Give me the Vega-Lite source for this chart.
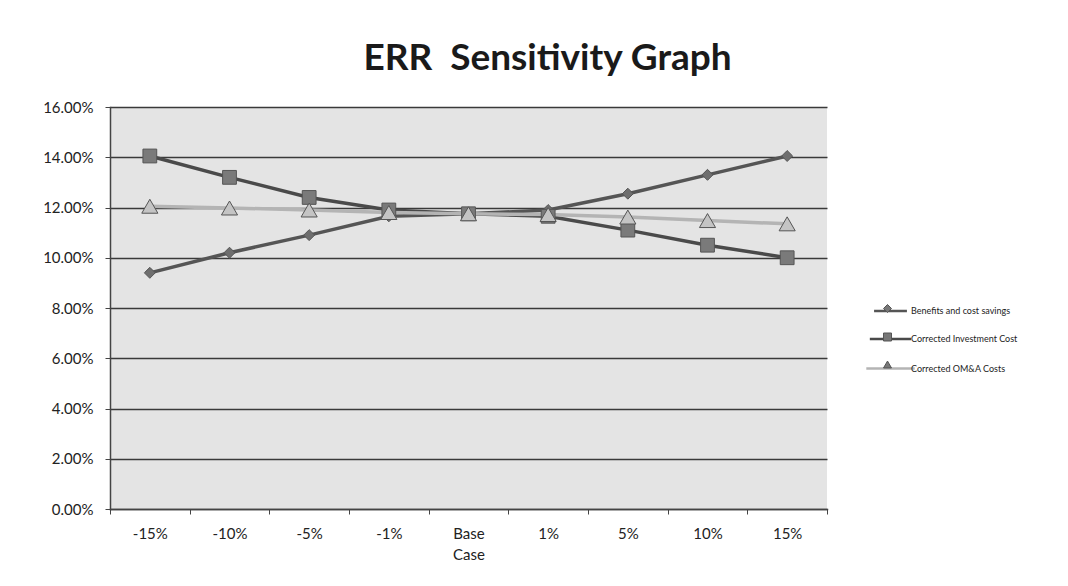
{
  "$schema": "https://vega.github.io/schema/vega-lite/v6.json",
  "autosize": "none",
  "width": 717,
  "height": 402,
  "padding": {"left": 110, "top": 107, "right": 241, "bottom": 77},
  "background": "white",
  "title": {
    "text": "ERR\u00a0 Sensitivity Graph",
    "font": "Lato",
    "fontSize": 37,
    "fontWeight": "bold",
    "color": "#1a1a1a",
    "anchor": "middle",
    "frame": "group",
    "dx": 79,
    "offset": 22
  },
  "data": {
    "values": [
      {"case": "-15%", "series": "Benefits and cost savings", "value": 0.094},
      {"case": "-10%", "series": "Benefits and cost savings", "value": 0.102},
      {"case": "-5%", "series": "Benefits and cost savings", "value": 0.109},
      {"case": "-1%", "series": "Benefits and cost savings", "value": 0.1165},
      {"case": "Base Case", "series": "Benefits and cost savings", "value": 0.1175},
      {"case": "1%", "series": "Benefits and cost savings", "value": 0.119},
      {"case": "5%", "series": "Benefits and cost savings", "value": 0.1255},
      {"case": "10%", "series": "Benefits and cost savings", "value": 0.133},
      {"case": "15%", "series": "Benefits and cost savings", "value": 0.1405},
      {"case": "-15%", "series": "Corrected Investment Cost", "value": 0.1405},
      {"case": "-10%", "series": "Corrected Investment Cost", "value": 0.132},
      {"case": "-5%", "series": "Corrected Investment Cost", "value": 0.124},
      {"case": "-1%", "series": "Corrected Investment Cost", "value": 0.119},
      {"case": "Base Case", "series": "Corrected Investment Cost", "value": 0.1175},
      {"case": "1%", "series": "Corrected Investment Cost", "value": 0.1165},
      {"case": "5%", "series": "Corrected Investment Cost", "value": 0.111},
      {"case": "10%", "series": "Corrected Investment Cost", "value": 0.105},
      {"case": "15%", "series": "Corrected Investment Cost", "value": 0.1},
      {"case": "-15%", "series": "Corrected OM&A Costs", "value": 0.1205},
      {"case": "-10%", "series": "Corrected OM&A Costs", "value": 0.1198},
      {"case": "-5%", "series": "Corrected OM&A Costs", "value": 0.119},
      {"case": "-1%", "series": "Corrected OM&A Costs", "value": 0.118},
      {"case": "Base Case", "series": "Corrected OM&A Costs", "value": 0.1175},
      {"case": "1%", "series": "Corrected OM&A Costs", "value": 0.1172},
      {"case": "5%", "series": "Corrected OM&A Costs", "value": 0.1162},
      {"case": "10%", "series": "Corrected OM&A Costs", "value": 0.1148},
      {"case": "15%", "series": "Corrected OM&A Costs", "value": 0.1135}
    ]
  },
  "encoding": {
    "x": {
      "field": "case",
      "type": "nominal",
      "sort": ["-15%", "-10%", "-5%", "-1%", "Base Case", "1%", "5%", "10%", "15%"],
      "scale": {"paddingInner": 0, "paddingOuter": 0},
      "axis": {
        "title": null,
        "labelAngle": 0,
        "labelFont": "Lato",
        "labelFontSize": 15,
        "labelColor": "#222",
        "labelPadding": 12,
        "labelBaseline": "top",
        "labelLineHeight": 21,
        "labelExpr": "datum.value == 'Base Case' ? ['Base', 'Case'] : datum.value",
        "tickBand": "extent",
        "tickSize": 5,
        "tickColor": "#444",
        "domainColor": "#444",
        "domainWidth": 1.5,
        "grid": false
      }
    },
    "y": {
      "field": "value",
      "type": "quantitative",
      "scale": {"domain": [0, 0.16], "nice": false},
      "axis": {
        "title": null,
        "values": [0, 0.02, 0.04, 0.06, 0.08, 0.1, 0.12, 0.14, 0.16],
        "format": ".2%",
        "labelFont": "Lato",
        "labelFontSize": 15,
        "labelColor": "#222",
        "labelPadding": 12,
        "tickSize": 5,
        "tickColor": "#444",
        "domainColor": "#444",
        "domainWidth": 1.5,
        "grid": true,
        "gridColor": "#3a3a3a",
        "gridWidth": 1.5
      }
    }
  },
  "layer": [
    {
      "mark": {"type": "line", "strokeWidth": 3.5},
      "encoding": {
        "color": {
          "field": "series",
          "type": "nominal",
          "scale": {
            "domain": ["Benefits and cost savings", "Corrected Investment Cost", "Corrected OM&A Costs"],
            "range": ["#555555", "#4a4a4a", "#b4b4b4"]
          },
          "legend": {
            "title": null,
            "orient": "none",
            "legendX": 771,
            "legendY": 197,
            "padding": 0,
            "labelFont": "Lato",
            "labelFontSize": 9,
            "labelColor": "#222",
            "labelOffset": 11,
            "rowPadding": 14.5,
            "symbolType": "M-3,0H3",
            "symbolSize": 64,
            "symbolStrokeWidth": 2.5
          }
        }
      }
    },
    {
      "mark": {"type": "point", "filled": true, "opacity": 1, "strokeWidth": 1, "stroke": "#555"},
      "encoding": {
        "shape": {
          "field": "series",
          "type": "nominal",
          "scale": {"range": ["diamond", "square", "triangle-up"]},
          "legend": {
            "title": null,
            "orient": "none",
            "legendX": 773,
            "legendY": 197,
            "padding": 0,
            "labelFont": "Lato",
            "labelFontSize": 9,
            "labelExpr": "''",
            "labelOffset": 21,
            "rowPadding": 15.5,
            "symbolSize": 64,
            "symbolFillColor": "#777",
            "symbolStrokeColor": "#555",
            "symbolStrokeWidth": 1
          }
        },
        "size": {
          "field": "series",
          "type": "nominal",
          "scale": {
            "domain": ["Benefits and cost savings", "Corrected Investment Cost", "Corrected OM&A Costs"],
            "range": [120, 260, 80]
          },
          "legend": null
        },
        "fill": {
          "field": "series",
          "type": "nominal",
          "scale": {
            "domain": ["Benefits and cost savings", "Corrected Investment Cost", "Corrected OM&A Costs"],
            "range": ["#6e6e6e", "#7a7a7a", "#c4c4c4"]
          },
          "legend": null
        }
      }
    }
  ],
  "config": {
    "view": {"fill": "#e4e4e4", "stroke": null},
    "axis": {"domainCap": "square"}
  }
}
